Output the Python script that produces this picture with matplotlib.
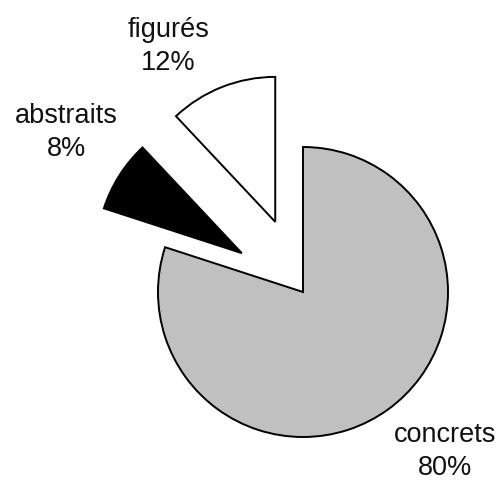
import matplotlib.pyplot as plt

# données du camembert
categories = ['concrets', 'abstraits', 'figurés']
percents = [80, 8, 12]
colors = ['#c0c0c0', 'black', 'white']
explode = [0, 0.50, 0.52]

# position des étiquettes (en rayons)
label_pos = [(0.98, -1.10), (-1.63, 1.10), (-0.93, 1.69)]

fig = plt.figure(figsize=(5.04, 4.84), dpi=100)
ax = fig.add_axes([0, 0, 1, 1])

wedges, _ = ax.pie(percents, colors=colors, explode=explode,
                   startangle=90, counterclock=False, radius=1,
                   wedgeprops={'edgecolor': 'black', 'linewidth': 1.4})

r = 145.0
cx, cy = 303, 292
ax.set_xlim(-cx / r, (504 - cx) / r)
ax.set_ylim(-(484 - cy) / r, cy / r)
ax.set_aspect('auto')
ax.axis('off')

for name, p, (x, y) in zip(categories, percents, label_pos):
    ax.text(x, y, f"{name}\n{p}%", ha='center', va='center',
            fontsize=19.5, family=['Liberation Sans', 'DejaVu Sans'],
            linespacing=1.35, color='#111111')

fig.savefig('out.png', dpi=100)
